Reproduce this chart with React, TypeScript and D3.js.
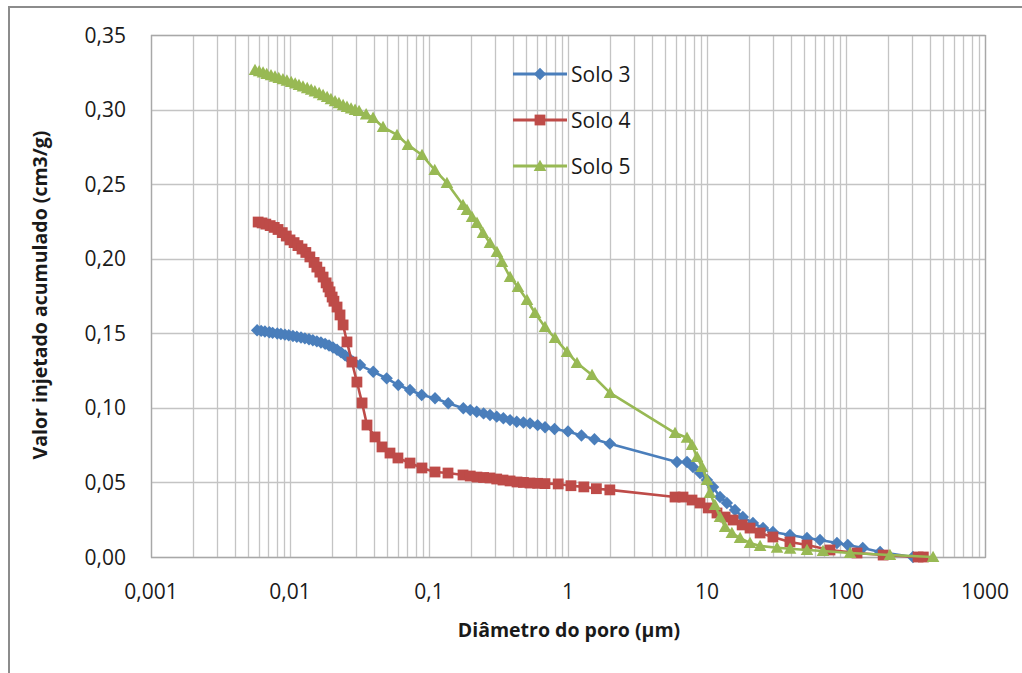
import React, { useEffect, useRef } from 'react';
import * as d3 from 'd3';

// Solo 3
const solo3Diam = [0.0058, 0.0062, 0.0066, 0.0071, 0.0075, 0.0081, 0.0086, 0.0092, 0.0098, 0.0105, 0.0112, 0.012, 0.0128, 0.0137, 0.0146, 0.0156, 0.0167, 0.0179, 0.0191, 0.0204, 0.0218, 0.0233, 0.0249, 0.0266, 0.0284, 0.0319, 0.0397, 0.0496, 0.0601, 0.073, 0.0886, 0.1105, 0.1376, 0.1766, 0.198, 0.2203, 0.247, 0.2748, 0.307, 0.3428, 0.383, 0.4276, 0.478, 0.533, 0.605, 0.684, 0.8, 1.0, 1.25, 1.55, 2.0, 6.08, 7.18, 7.93, 8.91, 10.0, 11.05, 12.4, 13.9, 15.9, 18.1, 21.4, 25.3, 29.8, 39.5, 52.4, 65.0, 86.1, 103, 132, 176, 303];
const solo3Val = [0.152, 0.1516, 0.1512, 0.1507, 0.1503, 0.1499, 0.1495, 0.1491, 0.1487, 0.1482, 0.1477, 0.1472, 0.1466, 0.146, 0.1453, 0.1446, 0.1438, 0.1429, 0.1418, 0.1405, 0.139, 0.1372, 0.1352, 0.1332, 0.131, 0.1287, 0.1242, 0.1198, 0.1153, 0.112, 0.1086, 0.1064, 0.1031, 0.0997, 0.0985, 0.0974, 0.0963, 0.0952, 0.0941, 0.093, 0.0918, 0.0907, 0.0902, 0.0896, 0.0884, 0.087, 0.0858, 0.0842, 0.0815, 0.079, 0.076, 0.0637, 0.0637, 0.0603, 0.0563, 0.0516, 0.0469, 0.0402, 0.0362, 0.0315, 0.0268, 0.0228, 0.0194, 0.0168, 0.0148, 0.0127, 0.0114, 0.0094, 0.008, 0.006, 0.0034, 0.0];

// Solo 4
const solo4Diam = [0.0059, 0.0063, 0.0067, 0.0072, 0.0077, 0.0082, 0.0088, 0.0094, 0.01, 0.0107, 0.0114, 0.0122, 0.013, 0.0139, 0.0149, 0.0156, 0.0164, 0.0173, 0.0182, 0.0188, 0.0194, 0.0201, 0.0207, 0.0218, 0.0229, 0.0241, 0.0257, 0.0279, 0.0303, 0.033, 0.0358, 0.0409, 0.0459, 0.0524, 0.0598, 0.073, 0.089, 0.1105, 0.137, 0.1757, 0.198, 0.2214, 0.247, 0.2746, 0.307, 0.3407, 0.383, 0.4297, 0.478, 0.533, 0.605, 0.683, 0.85, 1.05, 1.3, 1.6, 2.0, 5.89, 6.72, 7.8, 8.91, 10.2, 11.8, 13.5, 15.4, 17.9, 20.4, 24.1, 29.8, 39.5, 52.4, 76.7, 120, 185, 330, 360];
const solo4Val = [0.2246, 0.224, 0.2232, 0.2222, 0.221, 0.2196, 0.2175, 0.2152, 0.2126, 0.2108, 0.2088, 0.2065, 0.2042, 0.2012, 0.1975, 0.1944, 0.191, 0.1877, 0.1838, 0.181, 0.1778, 0.1743, 0.1715, 0.1676, 0.1623, 0.1556, 0.1442, 0.1307, 0.1173, 0.1033, 0.0885, 0.0805, 0.0738, 0.0697, 0.0664, 0.063, 0.0597, 0.057, 0.0563, 0.055, 0.0543, 0.0536, 0.0533, 0.053, 0.0523, 0.0516, 0.051, 0.0503, 0.05, 0.0496, 0.0494, 0.0492, 0.049, 0.0478, 0.047, 0.0458, 0.045, 0.0402, 0.0402, 0.0382, 0.0362, 0.0329, 0.0295, 0.0268, 0.0248, 0.0215, 0.0194, 0.0161, 0.0134, 0.0101, 0.008, 0.0047, 0.0027, 0.0013, 0.0, 0.0];

// Solo 5
const solo5Diam = [0.0056, 0.006, 0.0064, 0.0068, 0.0073, 0.0078, 0.0083, 0.0089, 0.0095, 0.0102, 0.0109, 0.0116, 0.0124, 0.0133, 0.0142, 0.0151, 0.0162, 0.0173, 0.0185, 0.0197, 0.0211, 0.0225, 0.0241, 0.0257, 0.0275, 0.0294, 0.0314, 0.0353, 0.0396, 0.0467, 0.0589, 0.0706, 0.0891, 0.11, 0.1346, 0.1756, 0.1876, 0.204, 0.2215, 0.2445, 0.2745, 0.308, 0.335, 0.383, 0.4365, 0.507, 0.579, 0.683, 0.806, 0.984, 1.161, 1.489, 2.006, 5.89, 7.18, 7.8, 8.48, 9.21, 10.0, 10.5, 11.4, 12.4, 13.5, 15.1, 17.3, 20.4, 24.1, 31.9, 39.6, 52.4, 68.3, 107, 207, 423];
const solo5Val = [0.3265, 0.3257, 0.3248, 0.3239, 0.323, 0.3221, 0.3212, 0.3203, 0.3194, 0.3185, 0.3175, 0.3165, 0.3155, 0.3144, 0.3133, 0.3122, 0.311, 0.3097, 0.3084, 0.307, 0.3056, 0.3043, 0.303, 0.3018, 0.3007, 0.2998, 0.299, 0.2968, 0.2944, 0.2883, 0.283, 0.2763, 0.2695, 0.2595, 0.2508, 0.236, 0.2327, 0.228, 0.224, 0.2172, 0.2105, 0.2045, 0.1978, 0.1877, 0.181, 0.1723, 0.1636, 0.1542, 0.1468, 0.1375, 0.1301, 0.122, 0.11, 0.0831, 0.08, 0.0751, 0.0671, 0.0603, 0.0516, 0.0429, 0.0349, 0.0268, 0.0201, 0.0161, 0.0127, 0.0094, 0.0074, 0.0062, 0.0055, 0.0047, 0.004, 0.0027, 0.0013, 0.0];

const xTicks = [0.001, 0.01, 0.1, 1, 10, 100, 1000];
const xTickLabels = ['0,001', '0,01', '0,1', '1', '10', '100', '1000'];
const yTicks = [0, 0.05, 0.1, 0.15, 0.2, 0.25, 0.3, 0.35];

const seriesNames = ['Solo 3', 'Solo 4', 'Solo 5'];
const seriesColors = ['#4a7ebb', '#be4b48', '#98b954'];
const seriesMarkers = ['diamond', 'square', 'triangle'];

const W = 1022;
const H = 673;
const FONT = '"Open Sans", "DejaVu Sans", sans-serif';

const markerPath = (type, cx, cy) => {
  if (type === 'diamond') {
    const r = 6.2;
    return `M${cx},${cy - r}L${cx + r},${cy}L${cx},${cy + r}L${cx - r},${cy}Z`;
  }
  if (type === 'square') {
    const r = 5.4;
    return `M${cx - r},${cy - r}H${cx + r}V${cy + r}H${cx - r}Z`;
  }
  const r = 6.3;
  return `M${cx},${cy - r}L${cx + r},${cy + r * 0.8}L${cx - r},${cy + r * 0.8}Z`;
};

const App = () => {
  const svgRef = useRef(null);

  useEffect(() => {
    const svg = d3.select(svgRef.current);
    svg.selectAll('*').remove();

    const left = 151, right = 985, top = 35, bottom = 557;

    const x = d3.scaleLog().domain([0.001, 1000]).range([left, right]);
    const y = d3.scaleLinear().domain([0, 0.35]).range([bottom, top]);

    // moldura do gráfico
    svg.append('rect')
      .attr('x', 9).attr('y', 7)
      .attr('width', 1040).attr('height', 720)
      .attr('fill', '#fff')
      .attr('stroke', '#8c8c8c')
      .attr('stroke-width', 2);

    // linhas de grade verticais (principais + secundárias)
    const vLines = [];
    for (let e = -3; e < 3; e++) {
      for (let m = 1; m < 10; m++) vLines.push(m * Math.pow(10, e));
    }
    vLines.push(1000);

    const grid = svg.append('g').attr('stroke', '#c4c4c4').attr('stroke-width', 1.3);
    grid.selectAll('line.v')
      .data(vLines)
      .join('line')
      .attr('class', 'v')
      .attr('x1', d => Math.round(x(d)) + 0.5).attr('x2', d => Math.round(x(d)) + 0.5)
      .attr('y1', top).attr('y2', bottom);

    grid.selectAll('line.h')
      .data(yTicks)
      .join('line')
      .attr('class', 'h')
      .attr('x1', left).attr('x2', right)
      .attr('y1', d => Math.round(y(d)) + 0.5).attr('y2', d => Math.round(y(d)) + 0.5);

    svg.append('rect')
      .attr('x', left + 0.5).attr('y', top + 0.5)
      .attr('width', right - left).attr('height', bottom - top)
      .attr('fill', 'none')
      .attr('stroke', '#a8a8a8')
      .attr('stroke-width', 1.3);

    // rótulos dos eixos
    svg.append('g')
      .selectAll('text')
      .data(yTicks)
      .join('text')
      .attr('x', 126)
      .attr('y', d => y(d))
      .attr('dy', '0.36em')
      .attr('text-anchor', 'end')
      .style('font-family', FONT)
      .style('font-size', '21px')
      .attr('fill', '#1a1a1a')
      .text(d => d3.format('.2f')(d).replace('.', ','));

    svg.append('g')
      .selectAll('text')
      .data(xTicks)
      .join('text')
      .attr('x', d => x(d))
      .attr('y', 599)
      .attr('text-anchor', 'middle')
      .style('font-family', FONT)
      .style('font-size', '21px')
      .attr('fill', '#1a1a1a')
      .text((d, i) => xTickLabels[i]);

    // títulos
    svg.append('text')
      .attr('x', 569).attr('y', 637)
      .attr('text-anchor', 'middle')
      .style('font-family', FONT)
      .style('font-size', '19.5px')
      .style('font-weight', 'bold')
      .attr('fill', '#1a1a1a')
      .text('Diâmetro do poro (µm)');

    svg.append('text')
      .attr('transform', 'translate(47,295) rotate(-90)')
      .attr('text-anchor', 'middle')
      .style('font-family', FONT)
      .style('font-size', '19.5px')
      .style('font-weight', 'bold')
      .attr('fill', '#1a1a1a')
      .text('Valor injetado acumulado (cm3/g)');

    // séries
    const series = [
      { diam: solo3Diam, val: solo3Val },
      { diam: solo4Diam, val: solo4Val },
      { diam: solo5Diam, val: solo5Val }
    ];

    const line = d3.line()
      .x(d => x(d[0]))
      .y(d => y(d[1]));

    series.forEach((s, i) => {
      const pts = s.diam.map((d, j) => [d, s.val[j]]);
      const g = svg.append('g');
      g.append('path')
        .attr('d', line(pts))
        .attr('fill', 'none')
        .attr('stroke', seriesColors[i])
        .attr('stroke-width', 2.6)
        .attr('stroke-linejoin', 'round');
      g.selectAll('path.mk')
        .data(pts)
        .join('path')
        .attr('class', 'mk')
        .attr('d', d => markerPath(seriesMarkers[i], x(d[0]), y(d[1])))
        .attr('fill', seriesColors[i]);
    });

    // legenda
    const legend = svg.append('g');
    seriesNames.forEach((name, i) => {
      const ly = 74 + i * 46;
      legend.append('line')
        .attr('x1', 513).attr('x2', 567)
        .attr('y1', ly).attr('y2', ly)
        .attr('stroke', seriesColors[i])
        .attr('stroke-width', 3);
      legend.append('path')
        .attr('d', markerPath(seriesMarkers[i], 540, ly))
        .attr('fill', seriesColors[i]);
      legend.append('text')
        .attr('x', 571).attr('y', ly)
        .attr('dy', '0.36em')
        .style('font-family', FONT)
        .style('font-size', '21px')
        .attr('fill', '#1a1a1a')
        .text(name);
    });
  }, []);

  return (
    <svg
      ref={svgRef}
      width={W}
      height={H}
      style={{ position: 'absolute', left: 0, top: 0, background: '#fff' }}
    />
  );
};

export default App;
